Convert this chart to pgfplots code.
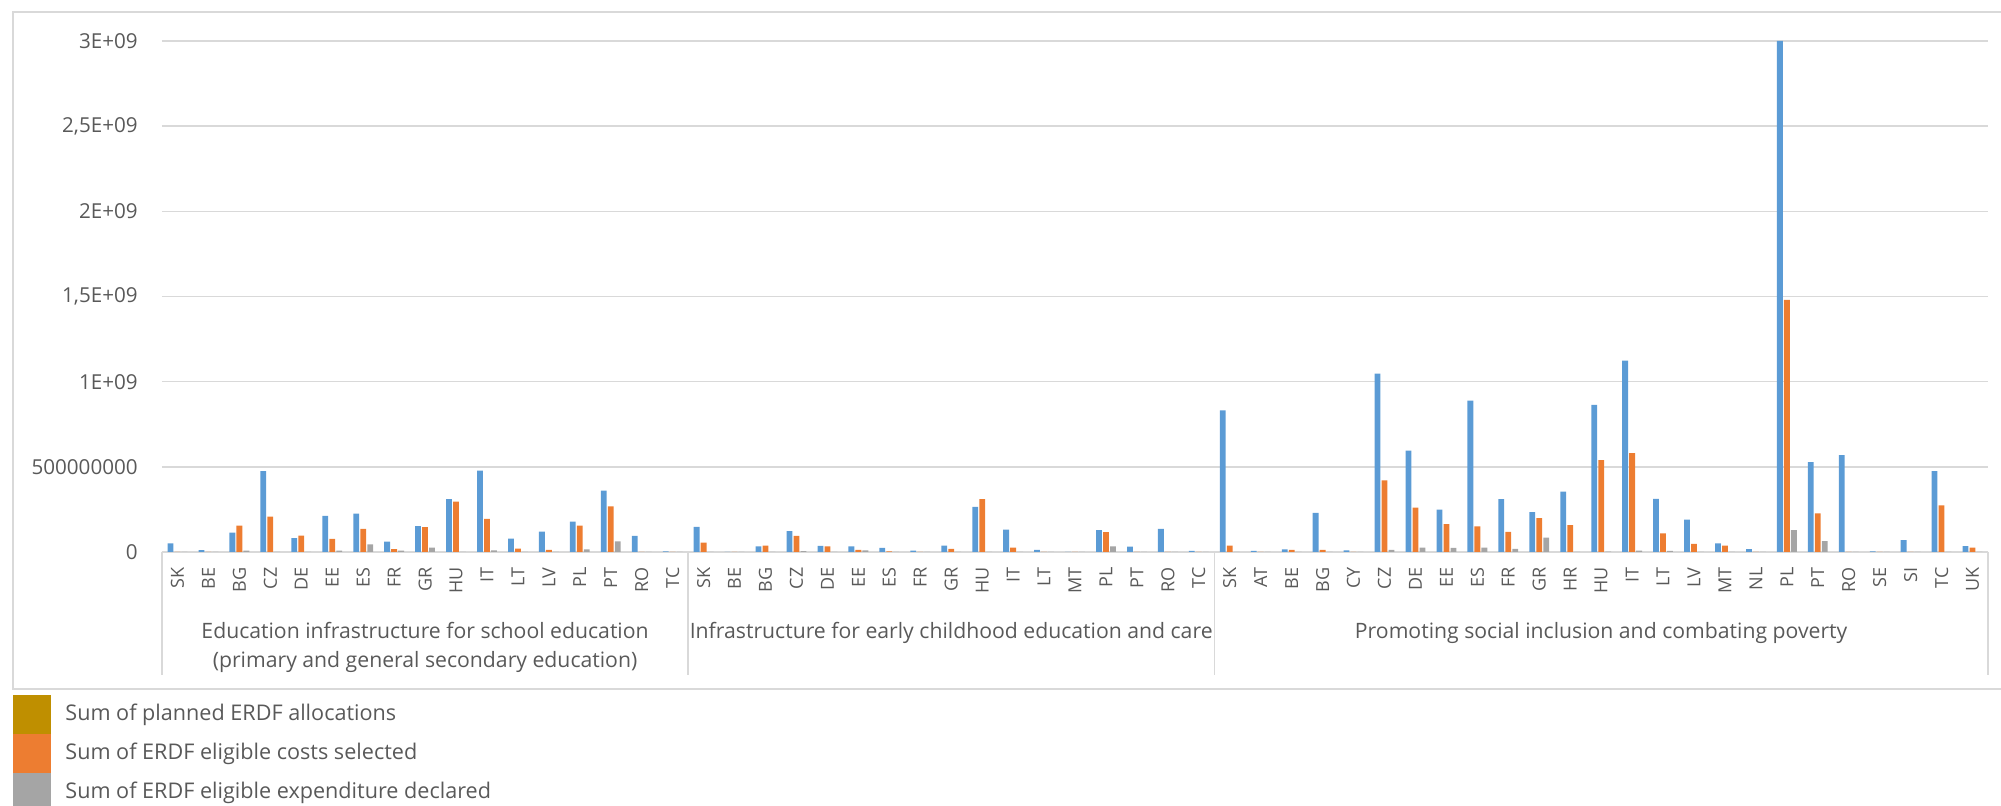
\documentclass[border=0pt]{standalone}
\usepackage{pgfplots}
\pgfplotsset{compat=1.18}
\usepackage{fontspec}
\setmainfont{Open Sans}

\definecolor{sblue}{HTML}{5B9BD5}
\definecolor{sorange}{HTML}{ED7D31}
\definecolor{sgray}{HTML}{A5A5A5}
\definecolor{sgold}{HTML}{BF8F00}
\definecolor{gridc}{HTML}{D9D9D9}
\definecolor{txt}{HTML}{595959}

% x index: 0-16 school education, 17-33 early childhood, 34-58 social inclusion
% values in EUR
\begin{document}
\begin{tikzpicture}[x=0.5pt,y=0.5pt]
\useasboundingbox (0,0) rectangle (2001,806);
% chart frame
\draw[gridc,line width=0.75pt] (13,794) rectangle (2030,117);

\begin{axis}[
  at={(81pt,127pt)}, anchor=south west,
  scale only axis, width=913pt, height=255.5pt,
  xmin=-0.5, xmax=58.5, ymin=0, ymax=3e9,
  axis line style={draw=none},
  ybar=0.6pt, bar width=2.9pt,
  major tick length=0pt,
  ymajorgrids, grid style={gridc,line width=0.75pt},
  ytick={0,5e8,1e9,1.5e9,2e9,2.5e9,3e9},
  yticklabels={0,500000000,1E+09,{1,5E+09},2E+09,{2,5E+09},3E+09},
  yticklabel style={font=\fontsize{10.3}{12}\selectfont, text=txt, inner sep=0pt, xshift=-12pt},
  xtick={0,...,58},
  xticklabels={SK,BE,BG,CZ,DE,EE,ES,FR,GR,HU,IT,LT,LV,PL,PT,RO,TC,
               SK,BE,BG,CZ,DE,EE,ES,FR,GR,HU,IT,LT,MT,PL,PT,RO,TC,
               SK,AT,BE,BG,CY,CZ,DE,EE,ES,FR,GR,HR,HU,IT,LT,LV,MT,NL,PL,PT,RO,SE,SI,TC,UK},
  xticklabel style={font=\fontsize{9}{11}\selectfont, text=txt, rotate=90, anchor=east, inner sep=0pt},
  xticklabel shift=7.5pt,
  scaled y ticks=false,
  clip=false,
]
% Sum of planned ERDF allocations
\addplot[fill=sblue, draw=none] coordinates {
 (0,50e6) (1,11e6) (2,113e6) (3,475e6) (4,82e6) (5,212e6) (6,225e6) (7,61e6) (8,152e6) (9,310e6) (10,477e6) (11,78e6) (12,119e6) (13,179e6) (14,360e6) (15,94e6) (16,3e6)
 (17,148e6) (18,1e6) (19,33e6) (20,122e6) (21,36e6) (22,33e6) (23,24e6) (24,8e6) (25,38e6) (26,265e6) (27,132e6) (28,12e6) (29,0) (30,129e6) (31,31e6) (32,136e6) (33,6e6)
 (34,832e6) (35,6e6) (36,15e6) (37,229e6) (38,10e6) (39,1047e6) (40,595e6) (41,248e6) (42,888e6) (43,310e6) (44,234e6) (45,355e6) (46,863e6) (47,1124e6) (48,312e6) (49,190e6) (50,51e6) (51,17e6) (52,3000e6) (53,527e6) (54,569e6) (55,4e6) (56,69e6) (57,475e6) (58,35e6)
};
% Sum of ERDF eligible costs selected
\addplot[fill=sorange, draw=none] coordinates {
 (0,0) (1,0) (2,155e6) (3,207e6) (4,96e6) (5,77e6) (6,135e6) (7,17e6) (8,146e6) (9,295e6) (10,194e6) (11,20e6) (12,12e6) (13,155e6) (14,268e6) (15,0) (16,0)
 (17,55e6) (18,0) (19,38e6) (20,94e6) (21,33e6) (22,12e6) (23,4e6) (24,0) (25,19e6) (26,310e6) (27,26e6) (28,0) (29,0) (30,116e6) (31,0) (32,0) (33,0)
 (34,37e6) (35,0) (36,12e6) (37,12e6) (38,0) (39,420e6) (40,260e6) (41,163e6) (42,150e6) (43,118e6) (44,199e6) (45,158e6) (46,540e6) (47,581e6) (48,110e6) (49,48e6) (50,38e6) (51,0) (52,1480e6) (53,227e6) (54,0) (55,0) (56,0) (57,273e6) (58,26e6)
};
% Sum of ERDF eligible expenditure declared
\addplot[fill=sgray, draw=none] coordinates {
 (0,0) (1,0) (2,8e6) (3,0) (4,0) (5,8e6) (6,44e6) (7,8e6) (8,25e6) (9,1e6) (10,10e6) (11,0) (12,0) (13,16e6) (14,63e6) (15,0) (16,0)
 (17,0) (18,0) (19,0) (20,5e6) (21,0) (22,9e6) (23,0) (24,0) (25,0) (26,1e6) (27,0) (28,0) (29,1e6) (30,33e6) (31,0) (32,0) (33,0)
 (34,0) (35,0) (36,0) (37,0) (38,0) (39,12e6) (40,25e6) (41,24e6) (42,25e6) (43,18e6) (44,84e6) (45,0) (46,2e6) (47,8e6) (48,6e6) (49,0) (50,0) (51,0) (52,128e6) (53,64e6) (54,0) (55,0) (56,0) (57,0) (58,0)
};
% group separators of the category axis
\draw[gridc,line width=0.75pt] (axis cs:-0.5,0) -- ++(0pt,-61.5pt);
\draw[gridc,line width=0.75pt] (axis cs:16.5,0) -- ++(0pt,-61.5pt);
\draw[gridc,line width=0.75pt] (axis cs:33.5,0) -- ++(0pt,-61.5pt);
\draw[gridc,line width=0.75pt] (axis cs:58.5,0) -- ++(0pt,-61.5pt);
% group names
\node[font=\fontsize{10.6}{14.5}\selectfont, text=txt, inner sep=0pt, align=center] at ([yshift=-47.5pt]axis cs:8,0) {Education infrastructure for school education\\(primary and general secondary education)};
\node[font=\fontsize{10.6}{14.5}\selectfont, text=txt, inner sep=0pt] at ([yshift=-40.5pt]axis cs:25,0) {Infrastructure for early childhood education and care};
\node[font=\fontsize{10.6}{14.5}\selectfont, text=txt, inner sep=0pt] at ([yshift=-40.5pt]axis cs:46,0) {Promoting social inclusion and combating poverty};
\end{axis}

% legend
\fill[sgold]   (13,111) rectangle (51,72);
\fill[sorange] (13,72)  rectangle (51,33);
\fill[sgray]   (13,33)  rectangle (51,-6);
\begin{scope}[every node/.style={font=\fontsize{10.8}{12}\selectfont, text=txt, inner sep=0pt, anchor=west}]
\node at (65,91.5) {Sum of planned ERDF allocations};
\node at (65,52.5) {Sum of ERDF eligible costs selected};
\node at (65,13.5) {Sum of ERDF eligible expenditure declared};
\end{scope}
\end{tikzpicture}
\end{document}
